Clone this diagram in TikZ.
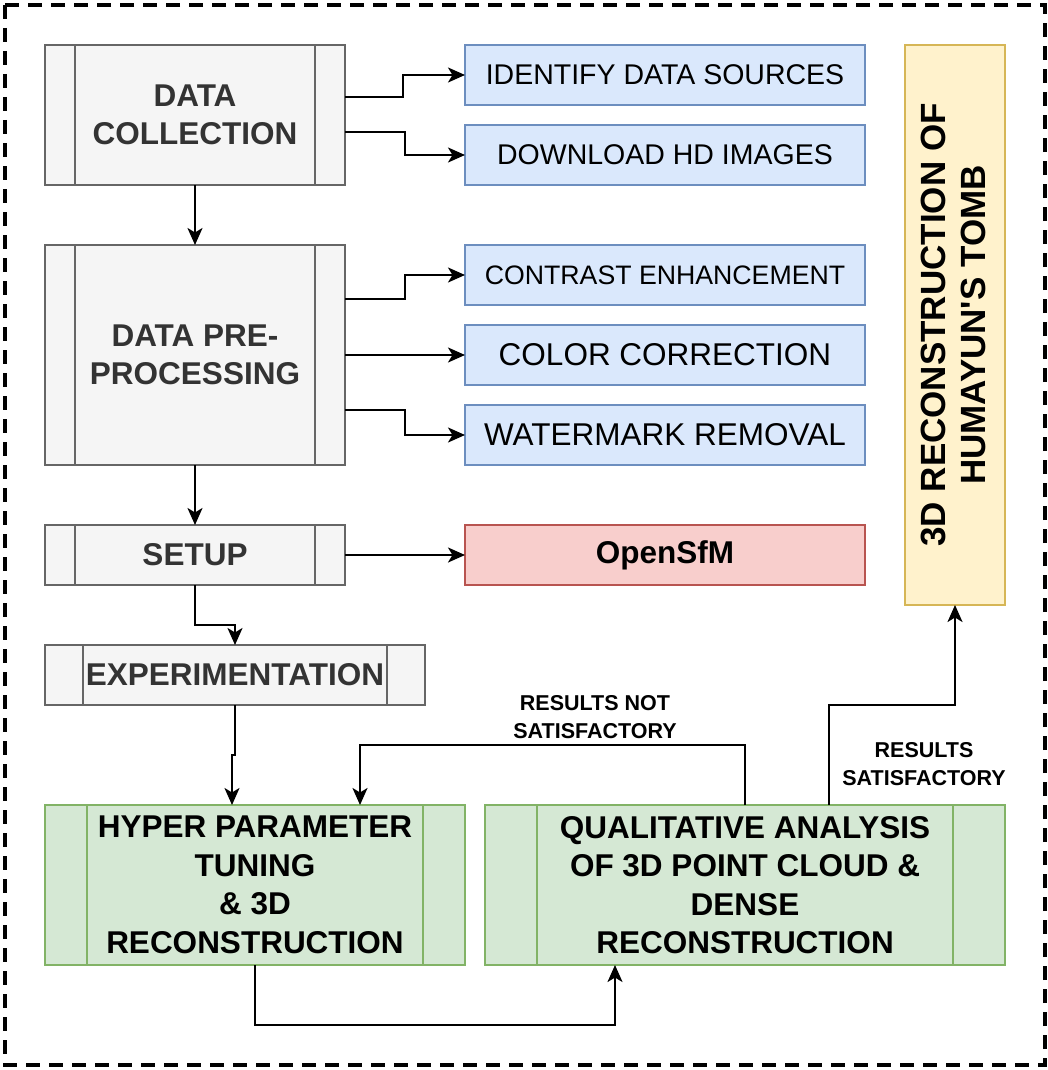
\documentclass[tikz,border=0pt]{standalone}
\usepackage{fontspec}
\setmainfont{Liberation Sans}
\usetikzlibrary{arrows.meta,calc}
\definecolor{grayfill}{HTML}{F5F5F5}
\definecolor{graydraw}{HTML}{666666}
\definecolor{graytext}{HTML}{333333}
\definecolor{bluefill}{HTML}{DAE8FC}
\definecolor{bluedraw}{HTML}{6C8EBF}
\definecolor{redfill}{HTML}{F8CECC}
\definecolor{reddraw}{HTML}{B85450}
\definecolor{greenfill}{HTML}{D5E8D4}
\definecolor{greendraw}{HTML}{82B366}
\definecolor{yellowfill}{HTML}{FFF2CC}
\definecolor{yellowdraw}{HTML}{D6B656}
\newcommand{\fsz}[1]{\fontsize{#1pt}{34pt}\selectfont}
\tikzset{
  basebox/.style={rectangle,line width=2.2pt,outer sep=0pt,inner sep=0pt,align=center},
  procbox/.style={basebox,
    path picture={\draw[#1,line width=2.2pt]
      ($(path picture bounding box.north west)!0.1!(path picture bounding box.north east)$) --
      ($(path picture bounding box.south west)!0.1!(path picture bounding box.south east)$)
      ($(path picture bounding box.north west)!0.9!(path picture bounding box.north east)$) --
      ($(path picture bounding box.south west)!0.9!(path picture bounding box.south east)$);}},
  graybox/.style={procbox=graydraw,fill=grayfill,draw=graydraw,text=graytext,
    font=\bfseries\fontsize{31.5}{38}\selectfont},
  greenbox/.style={procbox=greendraw,fill=greenfill,draw=greendraw,text=black,
    font=\bfseries\fontsize{31.5}{38.5}\selectfont},
  bluebox/.style={basebox,fill=bluefill,draw=bluedraw,minimum width=400pt,minimum height=60pt},
  redbox/.style={basebox,fill=redfill,draw=reddraw,minimum width=400pt,minimum height=60pt,
    font=\bfseries\fontsize{31.5}{38}\selectfont},
  yellowbox/.style={basebox,fill=yellowfill,draw=yellowdraw,minimum width=100pt,minimum height=560pt},
  edgelabel/.style={align=center,inner sep=0pt,font=\bfseries\fontsize{21.5}{27.5}\selectfont},
  arr/.style={line width=2.3pt,-{Stealth[length=17pt,width=15pt,inset=4.5pt]}},
  frame/.style={line width=3.5pt,dash pattern=on 14pt off 9pt}
}
\begin{document}
\begin{tikzpicture}[x=1pt,y=-1pt]
	\useasboundingbox (0,0) rectangle (1048,1070);
	\draw[frame] (5,5) rectangle (1045,1065);
	% left column
	\node[graybox,minimum width=300pt,minimum height=140pt] (dc) at (195,115) {DATA\\COLLECTION};
	\node[graybox,minimum width=300pt,minimum height=220pt] (pre) at (195,355) {DATA PRE-\\PROCESSING};
	\node[graybox,minimum width=300pt,minimum height=60pt] (setup) at (195,555) {SETUP};
	\node[graybox,minimum width=380pt,minimum height=60pt] (exp) at (235,675) {EXPERIMENTATION};
	\node[greenbox,minimum width=420pt,minimum height=160pt] (hyper) at (255,885) {HYPER PARAMETER\\TUNING\\\& 3D\\RECONSTRUCTION};
	\node[greenbox,minimum width=520pt,minimum height=160pt] (qual) at (745,885) {QUALITATIVE ANALYSIS\\OF 3D POINT CLOUD \&\\DENSE\\RECONSTRUCTION};
	% right column
	\node[bluebox,font=\fsz{28.5}] (ids) at (665,75) {IDENTIFY DATA SOURCES};
	\node[bluebox,font=\fsz{28.5}] (dl) at (665,155) {DOWNLOAD HD IMAGES};
	\node[bluebox,font=\fsz{26.7}] (ce) at (665,275) {CONTRAST ENHANCEMENT};
	\node[bluebox,font=\fsz{31.5}] (cc) at (665,355) {COLOR CORRECTION};
	\node[bluebox,font=\fsz{31.5}] (wr) at (665,435) {WATERMARK REMOVAL};
	\node[redbox] (osfm) at (665,555) {OpenSfM};
	\node[yellowbox] (tomb) at (955,325) {};
	\node[rotate=90,align=center,inner sep=0pt,font=\bfseries\fontsize{35}{40}\selectfont] (tombtext) at ([xshift=-2pt]tomb) {3D RECONSTRUCTION OF\\HUMAYUN\textquotesingle S TOMB};
	% labels
	\node[edgelabel] (notsat) at (595,717) {RESULTS NOT\\SATISFACTORY};
	\node[edgelabel] (sat) at (924,764) {RESULTS\\SATISFACTORY};
	% connectors
	\draw[arr] ([yshift=18pt]dc.east) -- ++(58,0) |- (ids.west);
	\draw[arr] ([yshift=-17pt]dc.east) -- ++(60,0) |- (dl.west);
	\draw[arr] (dc.south) -- (pre.north);
	\draw[arr] ([yshift=56pt]pre.east) -- ++(60,0) |- (ce.west);
	\draw[arr] (pre.east) -- (cc.west);
	\draw[arr] ([yshift=-55pt]pre.east) -- ++(60,0) |- (wr.west);
	\draw[arr] (pre.south) -- (setup.north);
	\draw[arr] (setup.east) -- (osfm.west);
	\draw[arr] (setup.south) -- ++(0,40) -| (exp.north);
	\draw[arr] (exp.south) -- ++(0,50) -| ([xshift=-23pt]hyper.north);
	\draw[arr] (hyper.south) -- ++(0,60) -| ([xshift=-130pt]qual.south);
	\draw[arr] (qual.north) -- ++(0,-60) -| ([xshift=105pt]hyper.north);
	\draw[arr] ([xshift=84pt]qual.north) -- ++(0,-100) -| (tomb.south);
\end{tikzpicture}
\end{document}
